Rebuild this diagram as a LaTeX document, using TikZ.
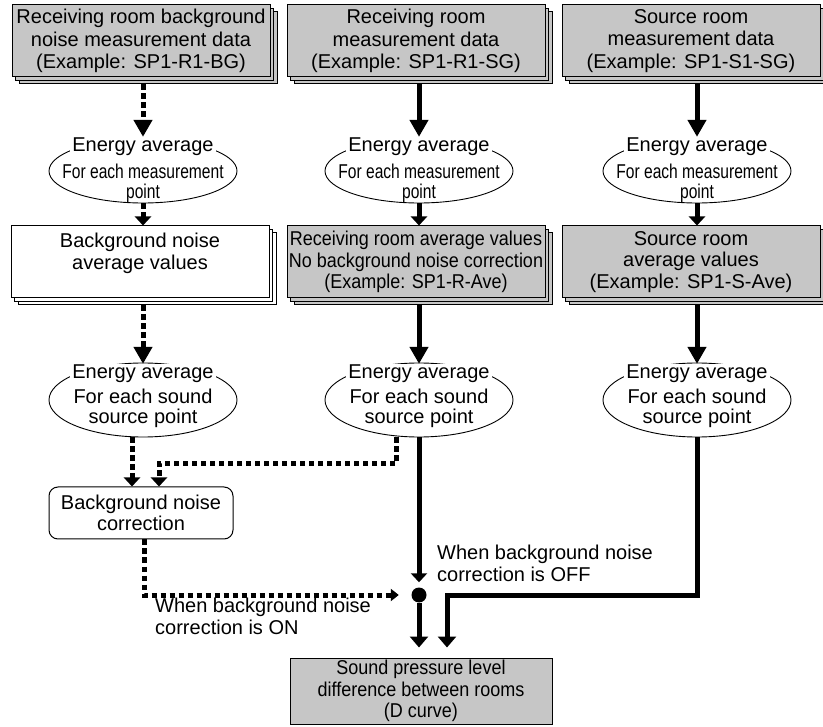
\documentclass[tikz,border=0pt]{standalone}
\usepackage{fontspec}
\setmainfont{Liberation Sans}
\newfontfamily\narrowsans[FakeStretch=0.78]{Liberation Sans}
\newfontfamily\snugsans[FakeStretch=0.9]{Liberation Sans}
\usetikzlibrary{calc,arrows.meta,shapes.geometric,shadows}

\definecolor{boxgray}{RGB}{198,198,198}

\begin{document}
\begin{tikzpicture}[x=1pt,y=-1pt,
  font=\fontsize{20}{21.5}\selectfont,
  stackbox/.style={draw, line width=1pt, fill=#1, minimum width=258pt,
    minimum height=72pt, inner sep=0pt, align=center,
    general shadow={draw, fill=#1, line width=1pt, shadow xshift=7pt, shadow yshift=-7pt},
    general shadow={draw, fill=#1, line width=1pt, shadow xshift=3.5pt, shadow yshift=-3.5pt}},
  stackbox/.default=boxgray,
  avg/.style={draw, ellipse, line width=0.9pt, minimum width=188pt,
    minimum height=#1, inner sep=0pt},
  headtext/.style={fill=white, inner xsep=2pt, inner ysep=1pt},
  subtext/.style={align=center, inner sep=0pt, font=\fontsize{20}{20}\selectfont},
  flow/.style={line width=5pt},
  dots/.style={line width=5pt, dash pattern=on 5.5pt off 3.5pt},
  bigtip/.style={-{Triangle[width=18pt,length=17pt]}},
  flattip/.style={-{Triangle[width=16pt,length=9pt]}},
  endtip/.style={-{Triangle[width=18pt,length=11pt]}},
  dottip/.style={-{Triangle[width=12pt,length=8pt]}}]
\useasboundingbox (0,0) rectangle (823,727);

% measurement data
\begin{scope}[font=\fontsize{20}{22.5}\selectfont]
\node[stackbox] (top1) at (141,41) {Receiving room background\\noise measurement data\\(Example: SP1-R1-BG)};
\node[stackbox] (top2) at (416,41) {Receiving room\\measurement data\\(Example: SP1-R1-SG)};
\node[stackbox] (top3) at (691,41) {Source room\\measurement data\\(Example: SP1-S1-SG)};
\end{scope}

% energy average per measurement point
\foreach \c/\x in {a/143,b/419,c/697} {
  \node[avg=64pt] (ell1\c) at (\x,171) {};
  \node[headtext] (ea1\c) at (\x,147) {Energy average};
  \node[subtext] (sub1\c) at (\x,183) {\narrowsans For each measurement\\\narrowsans point};
}

% averaged values
\node[stackbox=white] (mid1) at (140,262) {Background noise\\average values\\~};
\node[stackbox] (mid2) at (416,262) {\snugsans Receiving room average values\\\snugsans No background noise correction\\\snugsans (Example: SP1-R-Ave)};
\node[stackbox] (mid3) at (691,262) {Source room\\average values\\(Example: SP1-S-Ave)};

% energy average per sound source point
\foreach \c/\x in {a/143,b/419,c/697} {
  \node[avg=74pt] (ell2\c) at (\x,400) {};
  \node[headtext] (ea2\c) at (\x,374) {Energy average};
  \node[subtext] (sub2\c) at (\x,408) {For each sound\\source point};
}

\node[draw, line width=1pt, rounded corners=9pt, minimum width=184pt, minimum height=52pt,
  inner sep=0pt, align=center] (corr) at (141,513) {Background noise\\correction};
\node[circle, fill=black, minimum size=15pt, inner sep=0pt] (dot) at (419,595) {};
\coordinate (bend) at (447,595);
\node[draw, line width=1pt, fill=boxgray, minimum width=262pt, minimum height=66pt,
  inner sep=0pt, align=center] (res) at (421,691)
  {\snugsans Sound pressure level\\\snugsans difference between rooms\\\snugsans (D curve)};

\node[anchor=north west, inner sep=0pt, align=left] (off) at (437,545)
  {When background noise\\correction is OFF};
\node[anchor=north west, inner sep=0pt, align=left] (on) at (155,598)
  {When background noise\\correction is ON};

% background noise branch
\draw[dots, bigtip] ($(top1.south -| ea1a)+(0,7)$) -- (ea1a.north);
\draw[dots, flattip] (ell1a.south) -- (ell1a.south |- mid1.north);
\draw[dots, bigtip] ($(mid1.south -| ea2a)+(0,7)$) -- (ea2a.north);
\draw[dots, flattip] ($(ell2a.south)+(-11,0)$) -- ($(corr.north)+(-9,0)$);
\draw[dots, flattip] ($(ell2b.south)+(-23,0)$) -- ++(0,26) -| ($(corr.north)+(18,0)$);
\draw[dots, dottip, shorten >=12.5pt] ($(corr.south)+(3,0)$) |- (dot.west);

% receiving and source room branches
\draw[flow, bigtip] ($(top2.south -| ea1b)+(0,7)$) -- (ea1b.north);
\draw[flow, flattip] (ell1b.south) -- (ell1b.south |- mid2.north);
\draw[flow, bigtip] ($(mid2.south -| ea2b)+(0,7)$) -- (ea2b.north);
\draw[flow, bigtip] ($(top3.south -| ea1c)+(0,7)$) -- (ea1c.north);
\draw[flow, flattip] (ell1c.south) -- (ell1c.south |- mid3.north);
\draw[flow, bigtip] ($(mid3.south -| ea2c)+(0,7)$) -- (ea2c.north);

\draw[flow, flattip, shorten >=5pt] (ell2b.south) -- (dot.north);
\draw[flow, endtip, shorten >=10pt] (dot.south) -- (dot |- res.north);
\draw[flow, endtip, shorten >=10pt] (ell2c.south) |- (bend) -- (bend |- res.north);
\end{tikzpicture}
\end{document}
